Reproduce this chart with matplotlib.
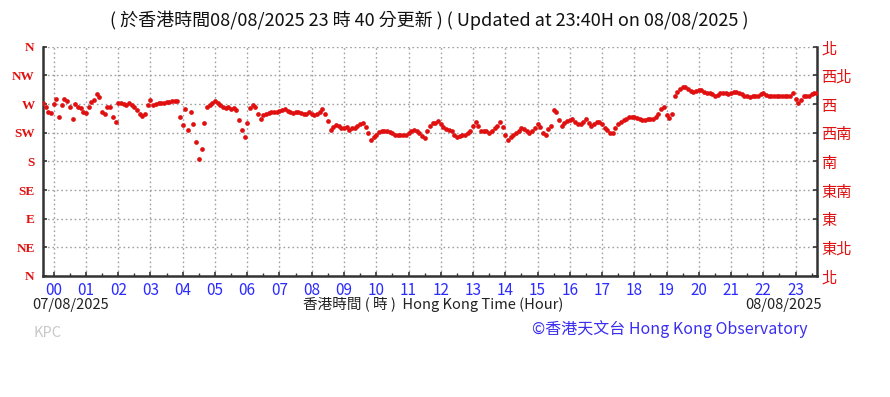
import numpy as np
import matplotlib
matplotlib.use("Agg")
import matplotlib.pyplot as plt
from matplotlib.ticker import MultipleLocator

plt.rcParams['font.family'] = ['Noto Sans CJK TC', 'DejaVu Sans']

# ---- data: wind direction (degrees) every 5 minutes, 23:40 (07/08) .. 23:40 (08/08)
start_minute = -20
step_minutes = 5
dir_pre = [272, 265, 258, 256]
dir_h00 = [270, 278, 250, 268, 278, 275, 265, 246, 270, 266, 263, 257]
dir_h01 = [256, 266, 273, 277, 286, 281, 258, 255, 266, 265, 250, 242]
dir_h02 = [271, 271, 270, 269, 272, 268, 265, 260, 255, 251, 255, 268]
dir_h03 = [276, 269, 270, 271, 271, 272, 273, 273, 274, 274, 275, 250]
dir_h04 = [237, 262, 229, 258, 239, 210, 183, 200, 240, 266, 268, 271]
dir_h05 = [274, 271, 268, 265, 263, 266, 262, 263, 260, 245, 229, 218]
dir_h06 = [240, 263, 268, 265, 254, 246, 253, 255, 256, 258, 258, 258]
dir_h07 = [259, 260, 262, 259, 257, 256, 257, 258, 256, 255, 255, 257]
dir_h08 = [255, 253, 255, 258, 262, 255, 243, 229, 234, 237, 235, 233]
dir_h09 = [233, 234, 229, 232, 233, 235, 238, 240, 234, 224, 214, 218]
dir_h10 = [222, 226, 227, 227, 227, 226, 224, 222, 221, 221, 221, 222]
dir_h11 = [225, 227, 229, 228, 225, 220, 217, 228, 235, 240, 240, 243]
dir_h12 = [238, 234, 231, 229, 227, 222, 218, 220, 221, 221, 224, 228]
dir_h13 = [235, 241, 235, 228, 227, 227, 225, 228, 232, 236, 241, 234]
dir_h14 = [222, 213, 218, 221, 224, 228, 232, 231, 228, 224, 228, 233]
dir_h15 = [239, 234, 224, 222, 231, 236, 260, 258, 245, 235, 240, 243]
dir_h16 = [245, 246, 241, 238, 238, 241, 246, 240, 236, 238, 241, 242]
dir_h17 = [238, 232, 229, 225, 224, 233, 238, 242, 245, 247, 249, 250]
dir_h18 = [250, 248, 246, 245, 245, 246, 246, 247, 249, 255, 262, 265]
dir_h19 = [253, 248, 255, 282, 289, 293, 296, 296, 294, 291, 289, 290]
dir_h20 = [292, 292, 289, 288, 287, 286, 283, 284, 287, 288, 287, 286]
dir_h21 = [288, 289, 289, 288, 286, 283, 282, 281, 282, 283, 283, 286]
dir_h22 = [287, 284, 283, 283, 283, 283, 283, 283, 283, 282, 283, 287]
dir_h23 = [278, 272, 276, 282, 283, 283, 285, 287, 288]

hour_labels = ["%02d" % h for h in range(24)]
dir_labels_en = ["N", "NE", "E", "SE", "S", "SW", "W", "NW", "N"]
dir_labels_zh = ["北", "東北", "東", "東南", "南", "西南", "西", "西北", "北"]
dir_ticks = [0, 45, 90, 135, 180, 225, 270, 315, 360]

direction = np.array(dir_pre + dir_h00 + dir_h01 + dir_h02 + dir_h03 + dir_h04 + dir_h05 +
                     dir_h06 + dir_h07 + dir_h08 + dir_h09 + dir_h10 + dir_h11 + dir_h12 +
                     dir_h13 + dir_h14 + dir_h15 + dir_h16 + dir_h17 + dir_h18 + dir_h19 +
                     dir_h20 + dir_h21 + dir_h22 + dir_h23, dtype=float)
hours = (start_minute + step_minutes * np.arange(len(direction))) / 60.0

RED = "#e01010"
BLUE = "#2b2bff"

fig = plt.figure(figsize=(8.9, 3.97), dpi=100)
ax = fig.add_axes([0.0483, 0.3048, 0.8697, 0.5776])

ax.plot(hours, direction, linestyle="none", marker="o", markersize=3.4,
        markeredgewidth=0, color=RED, zorder=3)

ax.set_xlim(-1/3, 23 + 2/3)
ax.set_ylim(0, 360)

ax.set_xticks(range(24))
ax.set_xticklabels(hour_labels)
ax.xaxis.set_minor_locator(MultipleLocator(0.5))
ax.set_yticks(dir_ticks)
ax.set_yticklabels(dir_labels_en, fontfamily=['Liberation Serif'], fontweight='bold')

ax.grid(True, which="major", color="#a0a0a0", linestyle=(0, (1.2, 2.0)), linewidth=1.0)
for side in ["left", "right", "bottom"]:
    ax.spines[side].set_color("#333333")
    ax.spines[side].set_linewidth(1.8)
ax.spines["top"].set_visible(False)

ax.tick_params(axis="x", which="major", direction="in", length=3, width=1.2,
               colors="#333333", labelcolor=BLUE, labelsize=11, pad=4)
ax.tick_params(axis="x", which="minor", direction="in", length=2, width=1.0, colors="#333333")
ax.tick_params(axis="y", which="major", direction="in", length=3, width=1.2,
               colors="#333333", labelcolor=RED, labelsize=9.5, pad=6)

ax2 = ax.twinx()
ax2.set_ylim(0, 360)
ax2.set_yticks(dir_ticks)
ax2.set_yticklabels(dir_labels_zh)
ax2.tick_params(axis="y", direction="in", length=3, width=1.2, colors="#333333",
                labelcolor=RED, labelsize=11, pad=3)
for side in ["left", "right", "bottom", "top"]:
    ax2.spines[side].set_visible(False)

fig.text(0.482, 0.948, "( 於香港時間08/08/2025 23 時 40 分更新 ) ( Updated at 23:40H on 08/08/2025 )",
         ha="center", va="center", fontsize=13, color="#111111")
fig.text(0.036, 0.232, "07/08/2025", ha="left", va="center", fontsize=10.5, color="#222222")
fig.text(0.487, 0.232, "香港時間 ( 時 )  Hong Kong Time (Hour)", ha="center", va="center",
         fontsize=10.5, color="#222222")
fig.text(0.923, 0.232, "08/08/2025", ha="right", va="center", fontsize=10.5, color="#222222")
fig.text(0.038, 0.160, "KPC", ha="left", va="center", fontsize=10.5, color="#c8c8c8")
fig.text(0.908, 0.170, "©香港天文台 Hong Kong Observatory", ha="right", va="center",
         fontsize=11.5, color="#3a2ef0")

fig.savefig("out.png", dpi=100)
